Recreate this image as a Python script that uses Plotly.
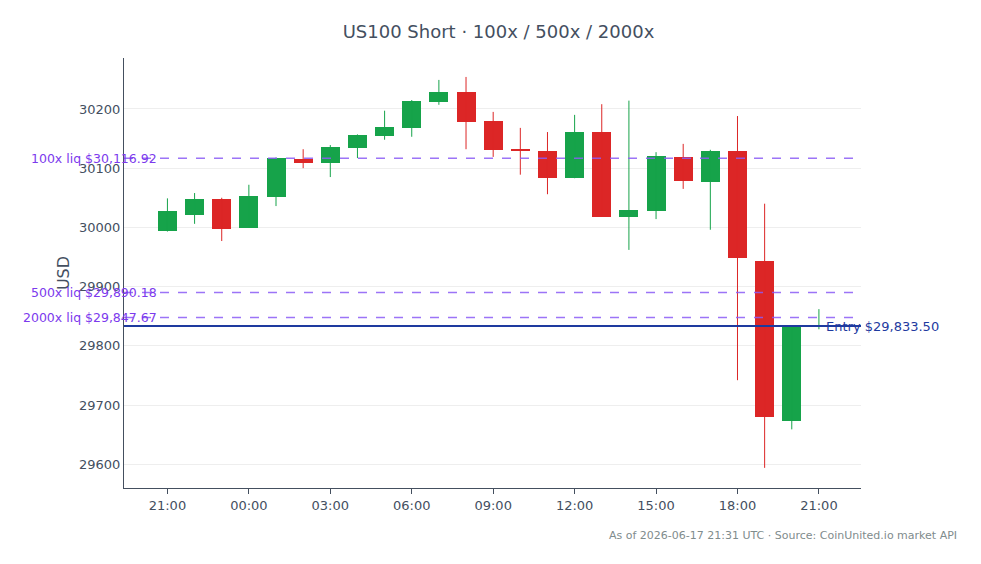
import plotly.graph_objects as go
import pandas as pd

times = pd.date_range("2026-06-16 21:00", periods=25, freq="h")
opens  = [29994,30021,30048,29999,30051,30115,30109,30134,30154,30168,30212,30229,30180,30132,30129,30083,30161,30018,30028,30119,30077,30129,29943,29673,29833]
closes = [30028,30048,29997,30053,30117,30109,30136,30156,30170,30214,30229,30178,30131,30129,30083,30161,30018,30029,30120,30078,30129,29948,29680,29832,29834]
highs  = [30049,30058,30050,30072,30118,30132,30139,30157,30197,30215,30249,30254,30195,30168,30161,30190,30208,30214,30127,30141,30131,30188,30040,29833,29862]
lows   = [29993,30006,29977,29999,30036,30100,30085,30117,30148,30153,30207,30132,30119,30089,30056,30083,30018,29962,30014,30065,29996,29742,29594,29659,29828]

entry = 29833.50
liqs = [("100x liq $30,116.92", 30116.92), ("500x liq $29,890.18", 29890.18), ("2000x liq $29,847.67", 29847.67)]

GREEN, RED = "#16a34a", "#dc2626"
colors = [GREEN if c >= o else RED for o, c in zip(opens, closes)]

fig = go.Figure()
for col in (GREEN, RED):
    wx, wy = [], []
    for t, h, l, c in zip(times, highs, lows, colors):
        if c == col:
            wx += [t, t, None]; wy += [h, l, None]
    fig.add_trace(go.Scatter(x=wx, y=wy, mode="lines", line=dict(color=col, width=1),
                             showlegend=False, hoverinfo="skip"))
fig.add_trace(go.Bar(
    x=times, base=[min(o, c) for o, c in zip(opens, closes)],
    y=[max(abs(c - o), 2) for o, c in zip(opens, closes)],
    width=0.7 * 3600 * 1000, marker=dict(color=colors, line=dict(width=0)), showlegend=False))

for label, v in liqs:
    fig.add_hline(y=v, line=dict(color="#8b5cf6", width=1.5, dash="dash"), opacity=0.85)
    fig.add_annotation(x=0.047, xref="paper", y=v, yref="y", text=label, showarrow=False,
                       xanchor="right", font=dict(color="#7c3aed", size=12.5))
fig.add_hline(y=entry, line=dict(color="#1e3a9f", width=2))
fig.add_annotation(x=0.95, xref="paper", y=entry, yref="y", text="Entry $29,833.50", showarrow=False,
                   xanchor="left", font=dict(color="#1e3a9f", size=13))
fig.add_annotation(x=1.133, xref="paper", y=-0.09, yref="paper", text="As of 2026-06-17 21:31 UTC · Source: CoinUnited.io market API",
                   showarrow=False, xanchor="right", yanchor="top", font=dict(color="#7f8c8d", size=11))

fig.update_layout(
    width=981, height=564, paper_bgcolor="white", plot_bgcolor="white",
    margin=dict(l=116, r=128, t=50, b=84),
    title=dict(text="US100 Short · 100x / 500x / 2000x", x=0.5, xanchor="center", y=0.97,
               font=dict(size=18, color="#444f5f")),
    font=dict(family="DejaVu Sans, sans-serif", color="#444f5f", size=13),
    bargap=0,
    xaxis=dict(showgrid=False, showline=True, linecolor="#444f5f",
               ticks="outside", tickcolor="#444f5f", tickformat="%H:%M", dtick=3*3600*1000,
               range=["2026-06-16 19:24", "2026-06-17 22:33"]),
    yaxis=dict(title=dict(text="USD", standoff=5), showgrid=True, gridcolor="#eeeeee", showline=True,
               linecolor="#444f5f", range=[29560, 30286], dtick=100, tickformat="d", zeroline=False),
)
fig.write_html("out.html")
